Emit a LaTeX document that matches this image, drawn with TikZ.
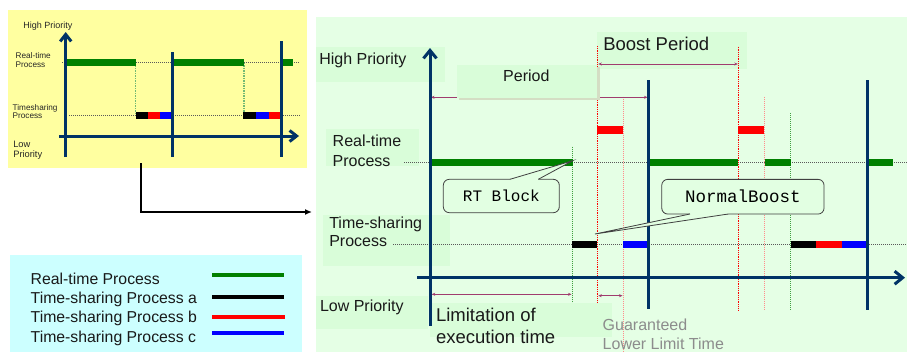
\documentclass[tikz,border=0pt]{standalone}
\usepackage{fontspec}
\setmainfont{Liberation Sans}
\newfontfamily\monofont{Liberation Mono}
\usetikzlibrary{arrows.meta}
\definecolor{navy}{RGB}{0,51,102}
\definecolor{rtgreen}{RGB}{0,128,0}
\definecolor{panelyellow}{RGB}{255,255,160}
\definecolor{panelgreen}{RGB}{229,255,229}
\definecolor{labelgreen}{RGB}{217,253,217}
\definecolor{legendcyan}{RGB}{204,255,255}
\definecolor{dimcol}{RGB}{160,60,110}
\definecolor{calloutfill}{RGB}{226,255,226}
\definecolor{shadowcol}{RGB}{212,222,196}
\begin{document}
\begin{tikzpicture}[x=1pt,y=-1pt,
  every node/.style={inner sep=0pt,outer sep=0pt},
  panel/.style={anchor=north west,draw=none},
  lbl/.style={anchor=base west,font=\fontsize{16}{19}\selectfont,text=black!90},
  biglbl/.style={anchor=base west,font=\fontsize{18.5}{22}\selectfont,text=black!90},
  smalllbl/.style={anchor=base west,font=\fontsize{8.2}{10}\selectfont,text=black!85},
  legendlbl/.style={anchor=base west,font=\fontsize{15.8}{19}\selectfont,text=black!90},
  axisarrow/.style={navy,line width=3pt,-{Straight Barb[length=8pt,width=13pt]}},
  navyline/.style={navy,line width=3pt},
  hdot/.style={black!65,line width=0.9pt,dash pattern=on 1pt off 1pt},
  bar/.style={line width=7pt},
  greendot/.style={rtgreen!75,line width=0.6pt,dash pattern=on 1pt off 1pt},
  reddot/.style={red,line width=0.9pt,dash pattern=on 1pt off 0.8pt},
  lightreddot/.style={red!45,line width=0.7pt,dash pattern=on 1pt off 1pt},
  dimline/.style={dimcol,line width=0.7pt,{Stealth[length=3.5pt,width=3pt]}-{Stealth[length=3.5pt,width=3pt]}},
  labelbg/.style={fill=labelgreen},
  callbox/.style={draw=black!75,fill=calloutfill,line width=0.8pt,rounded corners=6pt,font=\monofont\fontsize{16}{19}\selectfont},
  callside/.style={draw=black!75,line width=0.8pt,line join=miter},
  conn/.style={black,line width=2pt,-{Latex[length=7pt,width=6pt]}}
]
\useasboundingbox (0,0) rectangle (907,351);

% ---------- panels ----------
\node[panel,fill=panelyellow,minimum width=299pt,minimum height=158pt] (small) at (8,10) {};
\node[panel,fill=panelgreen,minimum width=595pt,minimum height=390pt] (big) at (316,17) {};
\node[panel,fill=legendcyan,minimum width=292pt,minimum height=97pt] (legend) at (10,255) {};

% ---------- connector ----------
\draw[conn,shorten >=4pt] ([xshift=-16.5pt,yshift=5pt]small.south) |- (big.west);

% ---------- small diagram ----------
\draw[hdot,line width=0.8pt] (62,62.8) -- (300,62.8);
\draw[hdot,line width=0.8pt] (69,115.3) -- (300,115.3);
\draw[rtgreen!55,line width=1.2pt,dash pattern=on 1.5pt off 1pt] (135.7,62.8) -- (135.7,115.3);
\draw[rtgreen!55,line width=1.2pt,dash pattern=on 1.5pt off 1pt] (244,62.8) -- (244,115.3);
\draw[bar,rtgreen] (65.7,62.8) -- (135.7,62.8);
\draw[bar,rtgreen] (173,62.8) -- (244,62.8);
\draw[bar,rtgreen] (282.7,62.8) -- (293,62.8);
\draw[bar,black] (135.7,115.3) -- (147.7,115.3);
\draw[bar,red] (147.7,115.3) -- (160,115.3);
\draw[bar,blue] (160,115.3) -- (172.7,115.3);
\draw[bar,black] (243.3,115.3) -- (256,115.3);
\draw[bar,blue] (256,115.3) -- (268.7,115.3);
\draw[bar,red] (268.7,115.3) -- (281.7,115.3);
\draw[axisarrow,-{Straight Barb[length=7pt,width=11pt]}] (65.7,157) -- (65.7,32);
\draw[axisarrow,-{Straight Barb[length=7pt,width=11pt]}] (59,136) -- (299,136);
\draw[navyline] (172.7,52) -- (172.7,157);
\draw[navyline] (281.7,41) -- (281.7,157);
\node[smalllbl,font=\fontsize{9}{11}\selectfont] (shp) at (23.3,28.7) {High Priority};
\node[smalllbl] (srt1) at (15.7,58.7) {Real-time};
\node[smalllbl] (srt2) at (15.7,67.7) {Process};
\node[smalllbl] (sts1) at (12.7,110) {Timesharing};
\node[smalllbl] (sts2) at (12.7,118.7) {Process};
\node[smalllbl,font=\fontsize{9.3}{11}\selectfont] (slp1) at (13.3,147.3) {Low};
\node[smalllbl,font=\fontsize{9.3}{11}\selectfont] (slp2) at (13.3,157) {Priority};

% ---------- legend ----------
\node[legendlbl] (lg1) at (30.7,284) {Real-time Process};
\node[legendlbl] (lg2) at (30.7,303.3) {Time-sharing Process a};
\node[legendlbl] (lg3) at (30.7,322.3) {Time-sharing Process b};
\node[legendlbl] (lg4) at (30.7,342.3) {Time-sharing Process c};
\draw[rtgreen,line width=4pt] (212,275) -- (284,275);
\draw[black,line width=4pt] (212,296.7) -- (284,296.7);
\draw[red,line width=4pt] (212,316.7) -- (285,316.7);
\draw[blue,line width=4pt] (212,333.3) -- (284,333.3);

% ---------- big diagram: label backgrounds ----------
\fill[labelgreen] (316,46.7) rectangle (445,81.7);
\fill[labelgreen] (326,129) rectangle (419,165.7);
\fill[labelgreen] (322.7,215) rectangle (450,266);
\fill[labelgreen] (316,296) rectangle (428,329);
\fill[labelgreen] (597.3,31.7) rectangle (746.7,69);

% horizontal dotted lines
\draw[hdot] (404,162.5) -- (907,162.5);
\draw[hdot] (393,244.5) -- (907,244.5);

% vertical dotted lines
\draw[greendot] (572.7,146.7) -- (572.7,303);
\draw[reddot] (597.3,46) -- (597.3,303);
\draw[lightreddot] (623.3,96.7) -- (623.3,351);
\draw[reddot] (738.5,46.7) -- (738.5,310);
\draw[lightreddot] (764.3,96.7) -- (764.3,310);
\draw[greendot] (790.3,113.3) -- (790.3,310);

% bars
\draw[rtgreen,line width=6.3pt] (430,162.5) -- (572.7,162.5);
\draw[rtgreen,line width=6.3pt] (648.3,162.5) -- (738.3,162.5);
\draw[rtgreen,line width=6.3pt] (765,162.5) -- (790.7,162.5);
\draw[rtgreen,line width=6.3pt] (867.3,162.5) -- (892.7,162.5);
\draw[red,line width=8pt] (597.3,130) -- (623.3,130);
\draw[red,line width=8pt] (738.3,130) -- (764.3,130);
\draw[black,line width=7pt] (572.3,244.5) -- (596.7,244.5);
\draw[blue,line width=7pt] (623.3,244.5) -- (649.3,244.5);
\draw[black,line width=7pt] (790.7,244.5) -- (816,244.5);
\draw[red,line width=7pt] (816,244.5) -- (841.7,244.5);
\draw[blue,line width=7pt] (841.7,244.5) -- (867.7,244.5);

% dimension lines
\draw[dimline] (431,97.3) -- (647.5,97.3);
\draw[dimline] (598.3,64) -- (737.8,64);
\draw[dimline] (431.7,294.3) -- (571.5,294.3);
\draw[dimline] (598.3,295.7) -- (622.5,295.7);

% period box with shadow, limitation box
\fill[shadowcol] (459,67) rectangle (599.5,100);
\fill[labelgreen] (456.7,65) rectangle (597.3,98.3);
\fill[labelgreen] (430,303.3) rectangle (611.7,336.7);

% axes
\draw[axisarrow] (430,326) -- (430,48);
\draw[axisarrow] (417,277.7) -- (905,277.7);
\draw[navyline] (648.3,80) -- (648.3,309);
\draw[navyline] (867.3,80) -- (867.3,310);

% labels
\node[lbl] (bhp) at (319.3,64.3) {High Priority};
\node[lbl,anchor=base] (bper) at (526.3,81.3) {Period};
\node[biglbl] (bbp) at (603.3,50) {Boost Period};
\node[lbl] (brt1) at (332.7,146.7) {Real-time};
\node[lbl] (brt2) at (332.7,166) {Process};
\node[lbl] (bts1) at (329.3,228.3) {Time-sharing};
\node[lbl] (bts2) at (329.3,246.7) {Process};
\node[lbl] (blp) at (320,311) {Low Priority};
\node[biglbl] (blim1) at (436,321.7) {Limitation of};
\node[biglbl] (blim2) at (436,343.3) {execution time};
\node[lbl,text=black!45] (bgl1) at (602.7,330) {Guaranteed};
\node[lbl,text=black!45] (bgl2) at (602.7,349) {Lower Limit Time};

% callouts
\node[callbox,minimum width=116pt,minimum height=33.4pt] (rtb) at (501.3,196) {RT Block};
\coordinate (rttip) at (572.7,160.7);
\fill[calloutfill] (510,179.3) -- (rttip) -- (538.3,179.3) -- (538.3,182) -- (510,182) -- cycle;
\draw[callside] (510,179.3) -- (rttip) -- (538.3,179.3);

\node[callbox,font=\monofont\fontsize{17.5}{20}\selectfont,minimum width=162.3pt,minimum height=34.7pt] (nb) at (742.9,196.7) {NormalBoost};
\coordinate (nbtip) at (595,234);
\fill[calloutfill] (690,214) -- (nbtip) -- (728.3,214) -- (728.3,211) -- (690,211) -- cycle;
\draw[callside] (690,214) -- (nbtip) -- (728.3,214);
\end{tikzpicture}
\end{document}
